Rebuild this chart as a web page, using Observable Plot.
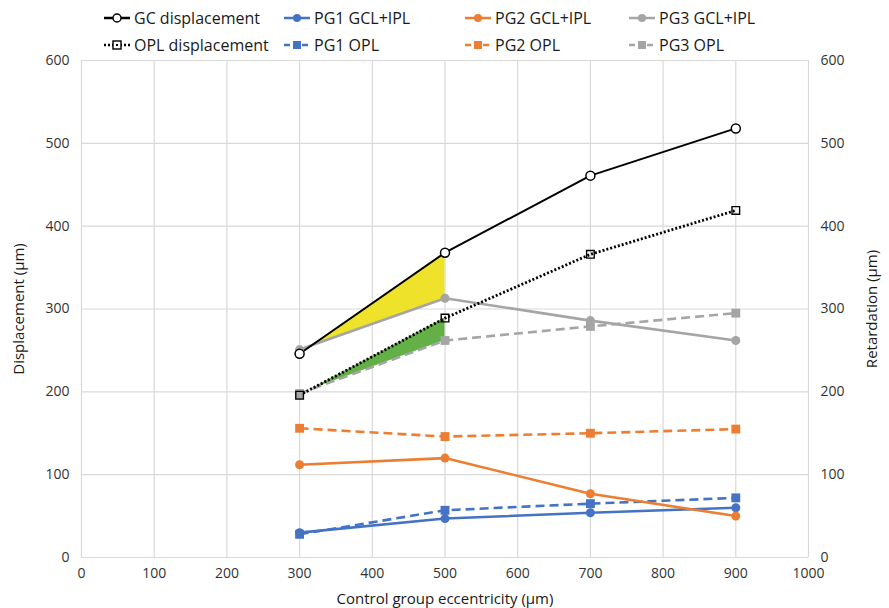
<!DOCTYPE html>
<html><head><meta charset="utf-8">
<script src="https://cdn.jsdelivr.net/npm/d3@7"></script>
<script src="https://cdn.jsdelivr.net/npm/@observablehq/plot@0.6"></script>
<style>
body{margin:0;background:#fff;font-family:"Open Sans",sans-serif;}
#wrap{position:relative;width:889px;height:608px;}
#legend{position:absolute;left:0;top:0;height:52px;width:889px;z-index:2;}
.item{position:absolute;display:flex;align-items:center;font-size:16px;color:#1a1a1a;white-space:nowrap;}
.item svg{margin-right:3px;}
</style></head>
<body><div id="wrap"><div id="legend"></div><div id="chart"></div></div>
<script>
const xs = [300, 500, 700, 900];
const gcDisp = [246, 368, 461, 518];
const oplDisp = [196, 289, 366, 419];
const pg1Gcl = [30, 47, 54, 60];
const pg1Opl = [28, 57, 65, 72];
const pg2Gcl = [112, 120, 77, 50];
const pg2Opl = [156, 146, 150, 155];
const pg3Gcl = [251, 313, 286, 262];
const pg3Opl = [198, 262, 279, 295];
const xTicks = [0, 100, 200, 300, 400, 500, 600, 700, 800, 900, 1000];
const yTicks = [0, 100, 200, 300, 400, 500, 600];
const shadeX = [300, 500];

const blue = "#4472C4", orange = "#ED7D31", grey = "#A5A5A5", black = "#000";

const series = [
  {name: "GC displacement", vals: gcDisp, color: black, dash: null, sym: "circle", hollow: true, col: 0, row: 0},
  {name: "OPL displacement", vals: oplDisp, color: black, dash: "2,2", sym: "square", hollow: true, col: 0, row: 1},
  {name: "PG1 GCL+IPL", vals: pg1Gcl, color: blue, dash: null, sym: "circle", col: 1, row: 0},
  {name: "PG1 OPL", vals: pg1Opl, color: blue, dash: "9,5", sym: "square", col: 1, row: 1},
  {name: "PG2 GCL+IPL", vals: pg2Gcl, color: orange, dash: null, sym: "circle", col: 2, row: 0},
  {name: "PG2 OPL", vals: pg2Opl, color: orange, dash: "9,5", sym: "square", col: 2, row: 1},
  {name: "PG3 GCL+IPL", vals: pg3Gcl, color: grey, dash: null, sym: "circle", col: 3, row: 0},
  {name: "PG3 OPL", vals: pg3Opl, color: grey, dash: "9,5", sym: "square", col: 3, row: 1}
];

// legend (HTML)
const colX = [104, 284, 465, 629];
const rowY = [7, 34];
const legend = document.getElementById("legend");
for (const s of series) {
  const div = document.createElement("div");
  div.className = "item";
  div.style.left = colX[s.col] + "px";
  div.style.top = rowY[s.row] + "px";
  const dash = s.dash ? (s.color === black ? "2,2" : "6,3") : "none";
  let marker;
  if (s.sym === "circle") {
    marker = s.hollow
      ? `<circle cx="13" cy="8" r="4" fill="#fff" stroke="${s.color}" stroke-width="1.5"/>`
      : `<circle cx="13" cy="8" r="4" fill="${s.color}"/>`;
  } else {
    marker = s.hollow
      ? `<rect x="9" y="4" width="8" height="8" fill="#fff" stroke="${s.color}" stroke-width="1.4"/><rect x="12" y="7" width="2" height="2" fill="${s.color}"/>`
      : `<rect x="9" y="4" width="8" height="8" fill="${s.color}"/>`;
  }
  div.innerHTML = `<svg width="27" height="16"><line x1="0" x2="26" y1="8" y2="8" stroke="${s.color}" stroke-width="2.5" stroke-dasharray="${dash}"/>${marker}</svg><span>${s.name}</span>`;
  legend.appendChild(div);
}

const rows = s => xs.map((x, i) => ({x, y: s.vals[i]}));
const shadeYellow = shadeX.map((x, i) => ({x, y1: pg3Gcl[i], y2: gcDisp[i]}));
const shadeGreen = shadeX.map((x, i) => ({x, y1: pg3Opl[i], y2: oplDisp[i]}));

const marks = [
  Plot.gridX(xTicks, {stroke: "#d9d9d9", strokeOpacity: 1, strokeWidth: 1.2}),
  Plot.gridY(yTicks, {stroke: "#d9d9d9", strokeOpacity: 1, strokeWidth: 1.2}),
  Plot.areaY(shadeYellow, {x: "x", y1: "y1", y2: "y2", fill: "#EFE22A"}),
  Plot.areaY(shadeGreen, {x: "x", y1: "y1", y2: "y2", fill: "#63B047"}),
];
const order = [2, 3, 4, 5, 6, 7, 0, 1];
for (const k of order) {
  const s = series[k];
  marks.push(Plot.line(rows(s), {x: "x", y: "y", stroke: s.color,
    strokeWidth: s.color === black ? (s.dash ? 2.8 : 2) : 2.6,
    strokeDasharray: s.dash || undefined, strokeLinecap: "butt", strokeLinejoin: "round"}));
}
for (const k of order) {
  const s = series[k];
  const d = rows(s);
  if (s.sym === "circle") {
    marks.push(Plot.dot(d, s.hollow
      ? {x: "x", y: "y", r: 4.5, fill: "#fff", stroke: s.color, strokeWidth: 1.5}
      : {x: "x", y: "y", r: 4.5, fill: s.color}));
  } else if (s.hollow) {
    marks.push(Plot.dot(d, {x: "x", y: "y", symbol: "square", r: 4.3, fill: "none", stroke: s.color, strokeWidth: 1.4}));
  } else {
    marks.push(Plot.dot(d, {x: "x", y: "y", symbol: "square", r: 5, fill: s.color}));
  }
}
marks.push(
  Plot.axisX(xTicks, {tickSize: 0, tickPadding: 11, fontSize: 14, color: "#333", tickFormat: d => String(d), label: null}),
  Plot.axisX({label: "Control group eccentricity (µm)", ticks: [], tickSize: 0, labelAnchor: "center", labelArrow: "none", labelOffset: 46, fontSize: 15, color: "#1a1a1a"}),
  Plot.axisY(yTicks, {anchor: "left", tickSize: 0, tickPadding: 12, fontSize: 14, color: "#333", label: null}),
  Plot.axisY({anchor: "left", ticks: [], tickSize: 0, label: "Displacement (µm)", labelAnchor: "center", labelArrow: "none", labelOffset: 68, fontSize: 15, color: "#1a1a1a"}),
  Plot.axisY(yTicks, {anchor: "right", tickSize: 0, tickPadding: 12, fontSize: 14, color: "#333", label: null}),
  Plot.axisY({anchor: "right", ticks: [], tickSize: 0, label: "Retardation (µm)", labelAnchor: "center", labelArrow: "none", labelOffset: 68, fontSize: 15, color: "#1a1a1a"})
);

const chart = Plot.plot({
  width: 889,
  height: 608,
  marginTop: 60,
  marginBottom: 51,
  marginLeft: 81,
  marginRight: 81,
  style: {fontFamily: "Open Sans, sans-serif", fontSize: "14px", color: "#333", background: "#fff"},
  x: {domain: [0, 1000]},
  y: {domain: [0, 600]},
  marks
});
document.getElementById("chart").appendChild(chart);
</script></body></html>
